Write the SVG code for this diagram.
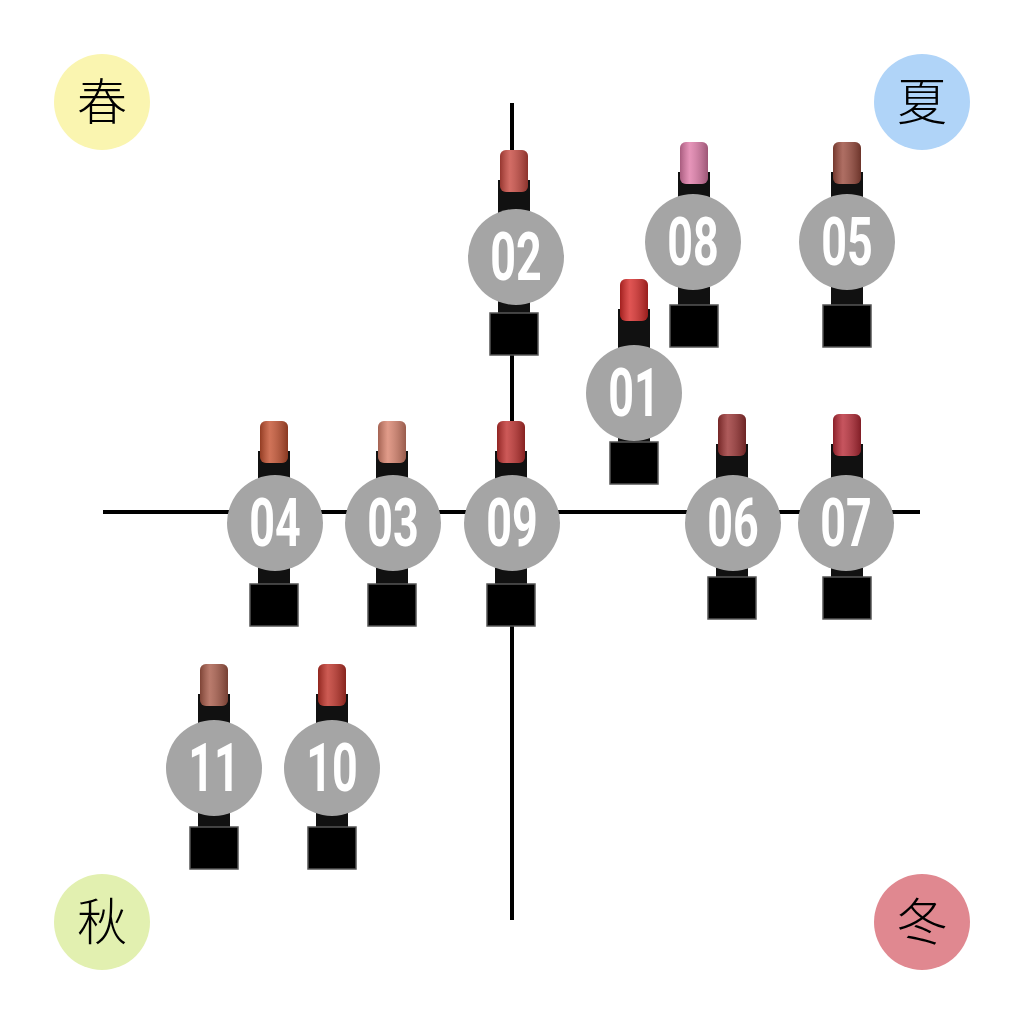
<svg xmlns="http://www.w3.org/2000/svg" xmlns:xlink="http://www.w3.org/1999/xlink" width="1024" height="1024" viewBox="0 0 1024 1024">
<style>
.axis{stroke:#000;stroke-width:4}
.num{font-family:"Roboto","Liberation Sans",sans-serif;font-weight:bold;font-size:66px;fill:#fff;text-anchor:middle}
.season{font-family:"Noto Sans CJK JP",sans-serif;font-size:50px;font-weight:300;fill:#000;text-anchor:middle}
.badge{fill:#a5a5a5}
</style>
<defs>
<linearGradient id="shade" x1="0" x2="1" y1="0" y2="0">
<stop offset="0" stop-color="#000" stop-opacity="0.25"/>
<stop offset="0.35" stop-color="#fff" stop-opacity="0.2"/>
<stop offset="1" stop-color="#000" stop-opacity="0.3"/>
</linearGradient>
<g id="body">
<rect x="-16" y="30" width="32" height="140" fill="#111"/>
<rect x="-24" y="163" width="48" height="42" fill="#000" stroke="#555" stroke-width="1.5"/>
</g>
</defs>
<rect width="1024" height="1024" fill="#fff"/>
<g id="connectors">
<line class="axis" x1="512" y1="103" x2="512" y2="920"/>
<line class="axis" x1="103" y1="512" x2="920" y2="512"/>
</g>
<g id="seasons">
<g id="spring"><circle cx="102" cy="102" r="48" fill="#faf5b0"/><text class="season" x="102" y="120">春</text></g>
<g id="summer"><circle cx="922" cy="102" r="48" fill="#b0d4f8"/><text class="season" x="922" y="120">夏</text></g>
<g id="autumn"><circle cx="102" cy="922" r="48" fill="#e2f0b0"/><text class="season" x="102" y="940">秋</text></g>
<g id="winter"><circle cx="922" cy="922" r="48" fill="#e08890"/><text class="season" x="922" y="940">冬</text></g>
</g>
<g id="n02" transform="translate(514,150)"><use xlink:href="#body"/><rect x="-14" y="0" width="28" height="42" rx="6" fill="#c8483f"/><rect x="-14" y="0" width="28" height="42" rx="6" fill="url(#shade)"/><circle class="badge" cx="2" cy="107" r="48"/><text class="num" transform="translate(2,130) scale(0.68,1)">02</text></g>
<g id="n08" transform="translate(694,142)"><use xlink:href="#body"/><rect x="-14" y="0" width="28" height="42" rx="6" fill="#e07aa8"/><rect x="-14" y="0" width="28" height="42" rx="6" fill="url(#shade)"/><circle class="badge" cx="-1" cy="100" r="48"/><text class="num" transform="translate(-1,123) scale(0.68,1)">08</text></g>
<g id="n05" transform="translate(847,142)"><use xlink:href="#body"/><rect x="-14" y="0" width="28" height="42" rx="6" fill="#9a4a3c"/><rect x="-14" y="0" width="28" height="42" rx="6" fill="url(#shade)"/><circle class="badge" cx="0" cy="100" r="48"/><text class="num" transform="translate(0,123) scale(0.68,1)">05</text></g>
<g id="n01" transform="translate(634,279)"><use xlink:href="#body"/><rect x="-14" y="0" width="28" height="42" rx="6" fill="#d82a28"/><rect x="-14" y="0" width="28" height="42" rx="6" fill="url(#shade)"/><circle class="badge" cx="0" cy="114" r="48"/><text class="num" transform="translate(0,137) scale(0.68,1)">01</text></g>
<g id="n04" transform="translate(274,421)"><use xlink:href="#body"/><rect x="-14" y="0" width="28" height="42" rx="6" fill="#c4502e"/><rect x="-14" y="0" width="28" height="42" rx="6" fill="url(#shade)"/><circle class="badge" cx="1" cy="102" r="48"/><text class="num" transform="translate(1,125) scale(0.68,1)">04</text></g>
<g id="n03" transform="translate(392,421)"><use xlink:href="#body"/><rect x="-14" y="0" width="28" height="42" rx="6" fill="#d9826c"/><rect x="-14" y="0" width="28" height="42" rx="6" fill="url(#shade)"/><circle class="badge" cx="1" cy="102" r="48"/><text class="num" transform="translate(1,125) scale(0.68,1)">03</text></g>
<g id="n09" transform="translate(511,421)"><use xlink:href="#body"/><rect x="-14" y="0" width="28" height="42" rx="6" fill="#c0302e"/><rect x="-14" y="0" width="28" height="42" rx="6" fill="url(#shade)"/><circle class="badge" cx="1" cy="102" r="48"/><text class="num" transform="translate(1,125) scale(0.68,1)">09</text></g>
<g id="n06" transform="translate(732,414)"><use xlink:href="#body"/><rect x="-14" y="0" width="28" height="42" rx="6" fill="#9a3232"/><rect x="-14" y="0" width="28" height="42" rx="6" fill="url(#shade)"/><circle class="badge" cx="1" cy="109" r="48"/><text class="num" transform="translate(1,132) scale(0.68,1)">06</text></g>
<g id="n07" transform="translate(847,414)"><use xlink:href="#body"/><rect x="-14" y="0" width="28" height="42" rx="6" fill="#b82a36"/><rect x="-14" y="0" width="28" height="42" rx="6" fill="url(#shade)"/><circle class="badge" cx="-1" cy="109" r="48"/><text class="num" transform="translate(-1,132) scale(0.68,1)">07</text></g>
<g id="n11" transform="translate(214,664)"><use xlink:href="#body"/><rect x="-14" y="0" width="28" height="42" rx="6" fill="#a85a48"/><rect x="-14" y="0" width="28" height="42" rx="6" fill="url(#shade)"/><circle class="badge" cx="0" cy="104" r="48"/><text class="num" transform="translate(0,127) scale(0.68,1)">11</text></g>
<g id="n10" transform="translate(332,664)"><use xlink:href="#body"/><rect x="-14" y="0" width="28" height="42" rx="6" fill="#c03228"/><rect x="-14" y="0" width="28" height="42" rx="6" fill="url(#shade)"/><circle class="badge" cx="0" cy="104" r="48"/><text class="num" transform="translate(0,127) scale(0.68,1)">10</text></g>
</svg>
